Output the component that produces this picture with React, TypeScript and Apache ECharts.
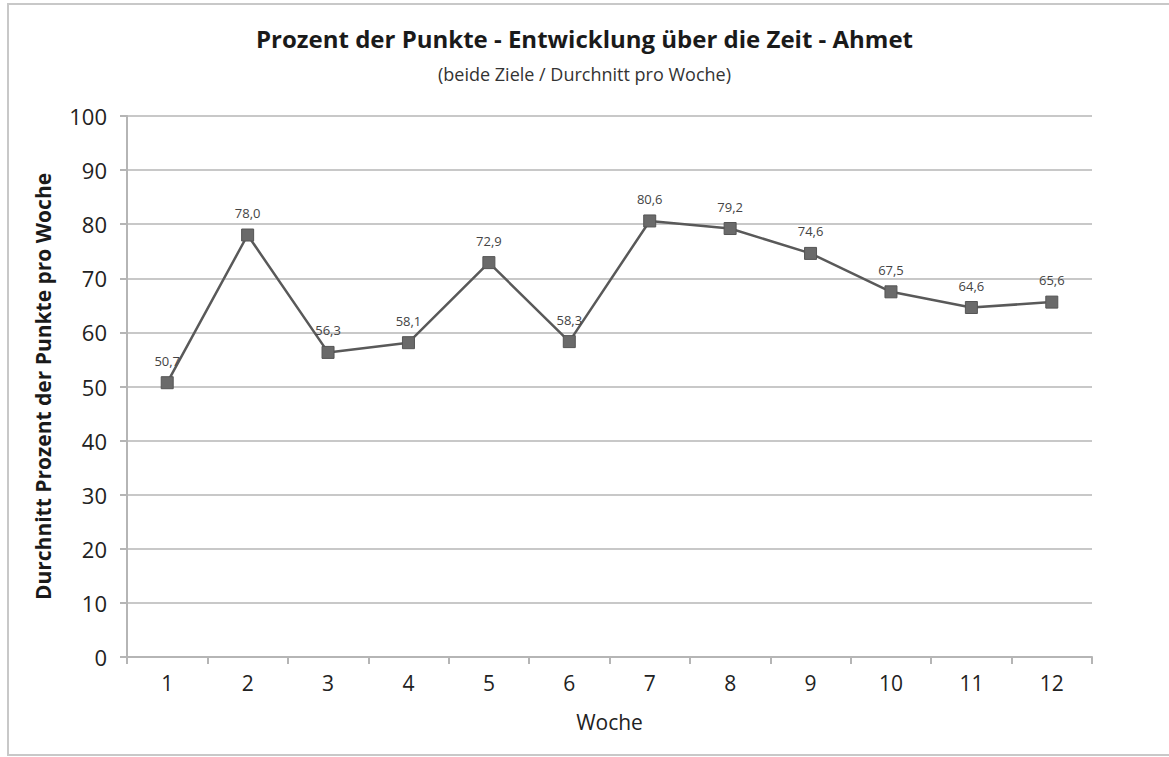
import React, { useEffect, useRef } from "react";
import * as echarts from "echarts";

const weeks = ["1", "2", "3", "4", "5", "6", "7", "8", "9", "10", "11", "12"];
const values = [50.7, 78.0, 56.3, 58.1, 72.9, 58.3, 80.6, 79.2, 74.6, 67.5, 64.6, 65.6];
const titleText = "Prozent der Punkte - Entwicklung über die Zeit - Ahmet";
const subtitleText = "(beide Ziele / Durchnitt pro Woche)";
const yName = "Durchnitt Prozent der Punkte pro Woche";
const xName = "Woche";

export default function App() {
  const ref = useRef<HTMLDivElement>(null);
  useEffect(() => {
    document.body.style.margin = "0";
    const chart = echarts.init(ref.current!, null, { renderer: "svg" });
    const font = "'Open Sans', Lato, sans-serif";
    chart.setOption({
      animation: false,
      backgroundColor: "#ffffff",
      graphic: [
        {
          type: "rect",
          shape: { x: 8, y: 4, width: 1170, height: 751 },
          style: { fill: "none", stroke: "#c8c8c8", lineWidth: 2 },
          silent: true,
        },
      ],
      title: [
        {
          text: titleText,
          left: "center",
          top: 21,
          textStyle: { fontFamily: font, fontSize: 24, fontWeight: "bold", color: "#1a1a1a" },
        },
        {
          text: subtitleText,
          left: "center",
          top: 60,
          textStyle: { fontFamily: font, fontSize: 18, fontWeight: "normal", color: "#333" },
        },
      ],
      grid: { left: 127, right: 77, top: 116, bottom: 100, containLabel: false },
      xAxis: {
        type: "category",
        data: weeks,
        boundaryGap: true,
        name: xName,
        nameLocation: "middle",
        nameGap: 54,
        nameTextStyle: { fontFamily: font, fontSize: 21, color: "#222" },
        axisLine: { lineStyle: { color: "#b5b5b5", width: 2 } },
        axisTick: { show: true, alignWithLabel: false, length: 7, lineStyle: { color: "#b5b5b5", width: 2 } },
        axisLabel: { fontFamily: font, fontSize: 21, color: "#222", margin: 15 },
      },
      yAxis: {
        type: "value",
        min: 0,
        max: 100,
        interval: 10,
        name: yName,
        nameLocation: "middle",
        nameGap: 74,
        nameTextStyle: { fontFamily: font, fontSize: 21, fontWeight: "bold", color: "#1a1a1a" },
        axisLine: { show: true, lineStyle: { color: "#b5b5b5", width: 2 } },
        axisTick: { show: true, length: 7, lineStyle: { color: "#b5b5b5", width: 2 } },
        axisLabel: { fontFamily: font, fontSize: 22, color: "#222", margin: 20 },
        splitLine: { lineStyle: { color: "#c8c8c8", width: 2 } },
      },
      series: [
        {
          type: "line",
          data: values,
          symbol: "rect",
          symbolSize: 12,
          lineStyle: { color: "#595959", width: 2.5 },
          itemStyle: { color: "#6a6a6a", borderColor: "#555", borderWidth: 1 },
          label: {
            show: true,
            position: "top",
            distance: 9,
            fontFamily: font,
            fontSize: 13,
            color: "#444",
            formatter: (p: any) => p.value.toFixed(1).replace(".", ","),
          },
        },
      ],
    });
    return () => chart.dispose();
  }, []);
  return <div ref={ref} style={{ width: 1169, height: 757 }} />;
}
